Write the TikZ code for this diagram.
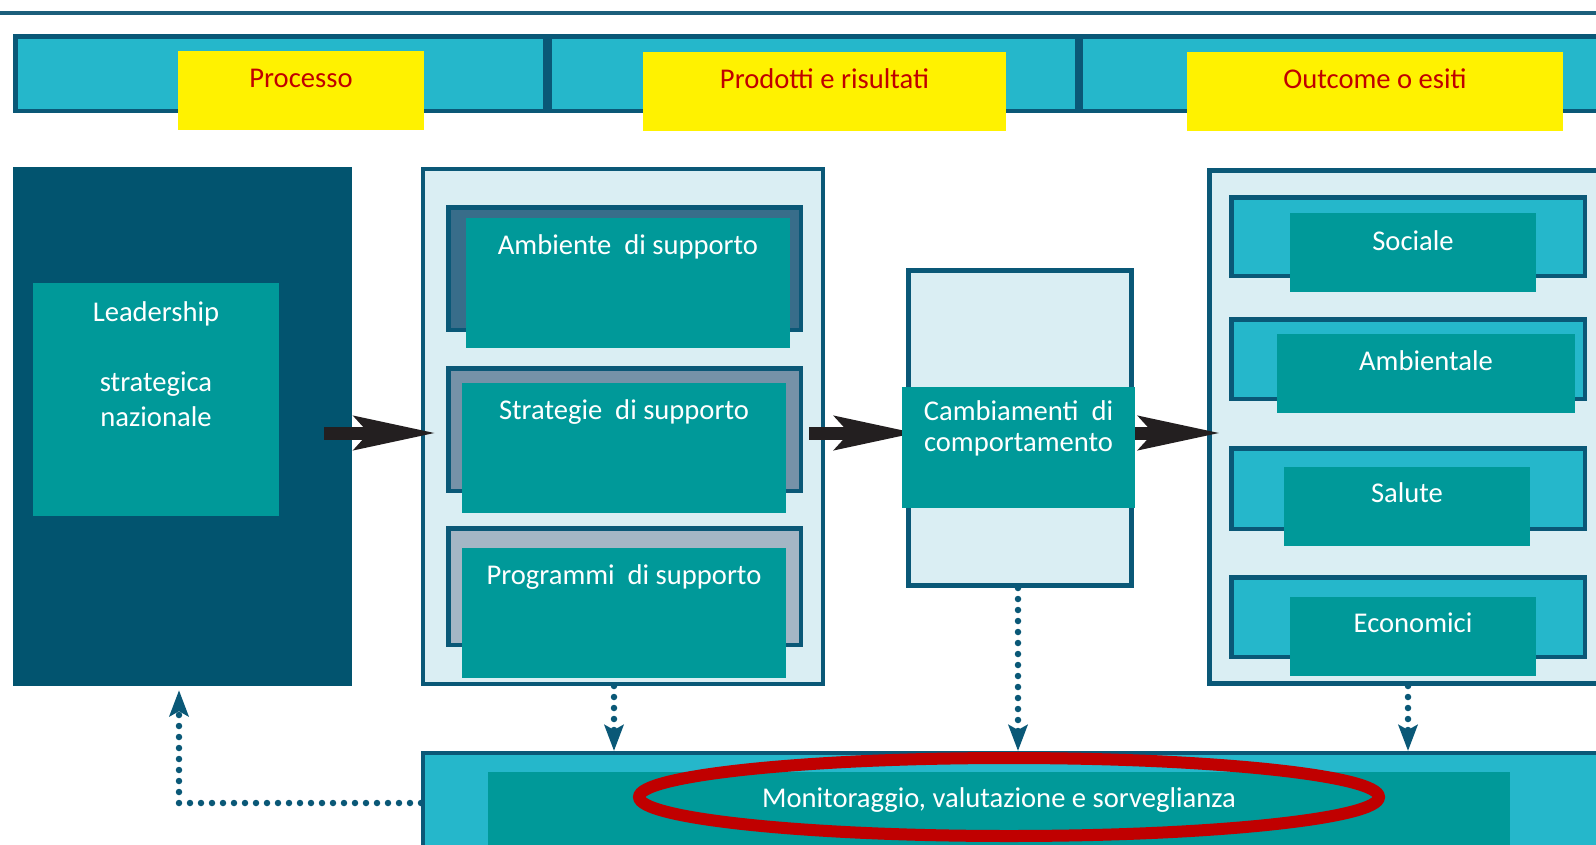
\documentclass[tikz,border=0pt]{standalone}
\usepackage{fontspec}
\setmainfont{Carlito}
\usepackage{tikz}
\usetikzlibrary{arrows.meta,shapes.geometric}
\definecolor{navy}{HTML}{02546F}
\definecolor{rim}{HTML}{0A5877}
\definecolor{sky}{HTML}{25B7CB}
\definecolor{sea}{HTML}{009999}
\definecolor{pale}{HTML}{DAEEF3}
\definecolor{steelA}{HTML}{386D8A}
\definecolor{steelB}{HTML}{7592A8}
\definecolor{steelC}{HTML}{A4B6C5}
\definecolor{tabred}{HTML}{C00000}
\definecolor{ink}{HTML}{231F20}
\definecolor{topline}{HTML}{1C5F7B}

\begin{document}
\begin{tikzpicture}[x=1pt, y=-1pt,
	frame/.style={rectangle, draw=rim, line width=4.5pt, inner sep=0pt},
	seabox/.style={rectangle, fill=sea, inner sep=0pt},
	tab/.style={rectangle, fill=yellow, inner sep=0pt},
	txt/.style={text=white, font=\fontsize{28.6pt}{35pt}\selectfont, inner sep=0pt, anchor=base},
	hdr/.style={txt, text=tabred},
	bigarrow/.style={-{Stealth[length=81pt, width=33pt, inset=14pt]}, line width=13pt, draw=ink},
	dotarrow/.style={-{Stealth[length=26pt, width=19pt, inset=5pt]}, draw=rim, line width=6.5pt, line cap=round, dash pattern=on 0pt off 11pt}]
	\useasboundingbox (0,0) rectangle (1596,844);
	\draw[line width=3.5pt, topline] (0,13) -- (1596,13);
	
	\node[frame, fill=sky, minimum width=529.5pt, minimum height=74.5pt] (head1) at (280,73.5) {};
	\node[frame, fill=sky, minimum width=527.5pt, minimum height=74.5pt] (head2) at (813,73.5) {};
	\node[frame, fill=sky, minimum width=600pt, minimum height=74.5pt] (head3) at (1381,73.5) {};
	\node[tab, minimum width=246pt, minimum height=79pt] (tab1) at (301,90.5) {};
	\node[hdr] (tab1t) at ([yshift=-37pt]tab1.north) {Processo};
	\node[tab, minimum width=363pt, minimum height=79pt] (tab2) at (824.5,91.5) {};
	\node[hdr] (tab2t) at ([yshift=-37pt]tab2.north) {Prodotti e risultati};
	\node[tab, minimum width=376pt, minimum height=79pt] (tab3) at (1375,91.5) {};
	\node[hdr] (tab3t) at ([yshift=-37pt]tab3.north) {Outcome o esiti};
	
	\node[rectangle, fill=navy, inner sep=0pt, minimum width=339pt, minimum height=519pt] (lead) at (182.5,426.5) {};
	\node[seabox, minimum width=246pt, minimum height=233pt] (lead1) at (156,399.5) {};
	\node[txt, align=center] (lead1t) at ([yshift=-144pt]lead1.north) {Leadership\\[35pt]strategica\\nazionale};
	
	\node[frame, line width=4pt, fill=pale, minimum width=400pt, minimum height=515pt] (box2) at (623,426.5) {};
	\node[frame, fill=steelA, minimum width=352.5pt, minimum height=122.5pt] (back1) at (624.5,268.5) {};
	\node[seabox, minimum width=324pt, minimum height=130pt] (supp1) at (628,283) {};
	\node[txt] (supp1t) at ([yshift=-37pt]supp1.north) {Ambiente~ di supporto};
	\node[frame, fill=steelB, minimum width=352.5pt, minimum height=122.5pt] (back2) at (624.5,429.5) {};
	\node[seabox, minimum width=324pt, minimum height=130pt] (supp2) at (624,448) {};
	\node[txt] (supp2t) at ([yshift=-37pt]supp2.north) {Strategie~ di supporto};
	\node[frame, fill=steelC, minimum width=352.5pt, minimum height=116.5pt] (back3) at (624.5,586.5) {};
	\node[seabox, minimum width=324pt, minimum height=130pt] (supp3) at (624,613) {};
	\node[txt] (supp3t) at ([yshift=-37pt]supp3.north) {Programmi~ di supporto};
	
	\node[frame, line width=5pt, fill=pale, minimum width=223pt, minimum height=315pt] (box3) at (1020,428) {};
	\node[frame, line width=5pt, fill=pale, minimum width=440pt, minimum height=513pt] (box4) at (1429.5,427) {};
	\node[frame, fill=sky, minimum width=353.5pt, minimum height=78.5pt] (out1) at (1408,236.5) {};
	\node[frame, fill=sky, minimum width=353.5pt, minimum height=79.5pt] (out2) at (1408,359) {};
	\node[frame, fill=sky, minimum width=353.5pt, minimum height=80.5pt] (out3) at (1408,488.5) {};
	\node[frame, fill=sky, minimum width=353.5pt, minimum height=79.5pt] (out4) at (1408,617) {};
	
	\draw[bigarrow] ([xshift=-28pt, yshift=-6.5pt]lead.east) -- ([xshift=15pt, yshift=-6.5pt]box2.west);
	\draw[bigarrow] ([xshift=-16pt, yshift=-6.5pt]box2.east) -- ([xshift=10.5pt, yshift=-5pt]box3.west);
	\draw[bigarrow] ([xshift=-10pt, yshift=-5pt]box3.east) -- ([xshift=13.5pt, yshift=-6pt]box4.west);
	
	\node[seabox, minimum width=233pt, minimum height=121pt] (change) at (1018.5,447.5) {};
	\node[txt, align=center, font=\fontsize{28.6pt}{31pt}\selectfont] (changet) at ([yshift=-65pt]change.north) {Cambiamenti~ di\\comportamento};
	
	\node[seabox, minimum width=246pt, minimum height=79pt] (res1) at (1413,252.5) {};
	\node[txt] (res1t) at ([yshift=-38pt]res1.north) {Sociale};
	\node[seabox, minimum width=298pt, minimum height=79pt] (res2) at (1426,373.5) {};
	\node[txt] (res2t) at ([yshift=-37pt]res2.north) {Ambientale};
	\node[seabox, minimum width=246pt, minimum height=79pt] (res3) at (1407,506.5) {};
	\node[txt] (res3t) at ([yshift=-36pt]res3.north) {Salute};
	\node[seabox, minimum width=246pt, minimum height=79pt] (res4) at (1413,636.5) {};
	\node[txt] (res4t) at ([yshift=-36pt]res4.north) {Economici};
	
	\node[frame, line width=4pt, fill=sky, minimum width=1220pt, minimum height=140pt] (mon) at (1033,823) {};
	\node[seabox, minimum width=1022pt, minimum height=128pt] (mon1) at (999,836) {};
	\node[ellipse, draw=tabred, line width=12pt, inner sep=0pt, minimum width=740pt, minimum height=78pt] (ring) at (1009,797) {};
	\node[txt] (mon1t) at ([yshift=-36pt]mon1.north) {Monitoraggio, valutazione e sorveglianza};
	
	\draw[dotarrow] ([xshift=-9pt]box2.south) -- ([xshift=-9pt]box2.south |- mon.north);
	\draw[dotarrow] ([xshift=-2pt]box3.south) -- ([xshift=-2pt]box3.south |- mon.north);
	\draw[dotarrow] (out4 |- box4.south) -- (out4 |- mon.north);
	\draw[dotarrow, shorten >=4pt] ([yshift=20pt]mon.west) -| ([xshift=-3.5pt]lead.south);
\end{tikzpicture}
\end{document}
